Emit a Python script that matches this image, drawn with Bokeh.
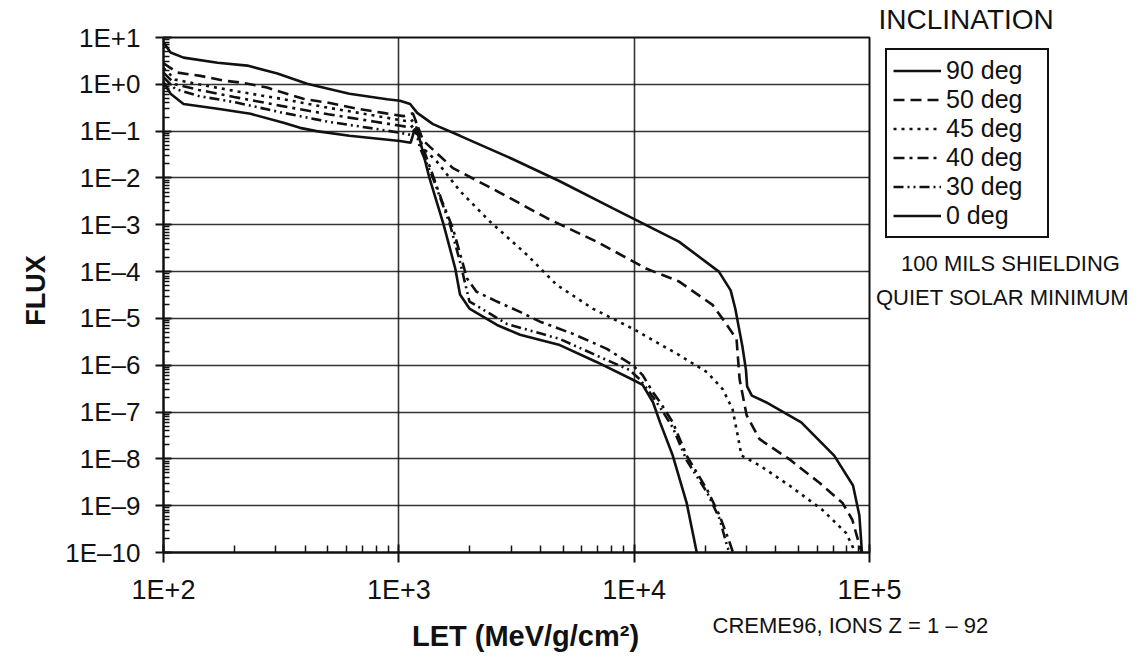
import math
from bokeh.plotting import figure
from bokeh.layouts import column
from bokeh.models import (FixedTicker, CustomJSTickFormatter, Legend, LegendItem, Label)
from bokeh.embed import file_html
from bokeh.resources import INLINE

# ---- data (log10 of LET and log10 of FLUX) ----
let_90 = [2.0, 2.03, 2.085, 2.23, 2.356, 2.484, 2.61, 2.79, 2.95, 3.005, 3.048, 3.078, 3.145, 3.26, 3.485,
          3.684, 3.91, 4.19, 4.36, 4.41, 4.43, 4.445, 4.46, 4.475, 4.48, 4.50, 4.56, 4.71, 4.85, 4.93, 4.957, 4.968]
flux_90 = [0.9, 0.68, 0.57, 0.46, 0.40, 0.23, 0.01, -0.20, -0.32, -0.35, -0.42, -0.61, -0.85, -1.10, -1.60,
           -2.07, -2.65, -3.36, -4.0, -4.4, -4.8, -5.2, -5.6, -6.1, -6.45, -6.65, -6.79, -7.22, -7.93, -8.57, -9.21, -10.0]

let_50 = [2.0, 2.06, 2.157, 2.255, 2.34, 2.44, 2.594, 2.696, 2.82, 2.933, 3.02, 3.06, 3.103, 3.23, 3.417, 3.63,
          3.84, 4.053, 4.19, 4.333, 4.376, 4.435, 4.448, 4.478, 4.533, 4.66, 4.787, 4.885, 4.927, 4.966]
flux_50 = [0.45, 0.25, 0.18, 0.08, 0.03, -0.07, -0.31, -0.39, -0.52, -0.61, -0.68, -0.62, -1.2, -1.79, -2.28, -2.86,
           -3.36, -3.94, -4.21, -4.71, -5.01, -5.44, -6.30, -7.07, -7.58, -8.01, -8.51, -8.94, -9.30, -10.0]

let_45 = [2.0, 2.05, 2.15, 2.3, 2.5, 2.7, 2.9, 3.0, 3.05, 3.07, 3.09, 3.16, 3.26, 3.387, 3.544, 3.67, 3.824,
          3.994, 4.19, 4.31, 4.376, 4.418, 4.44, 4.456, 4.533, 4.66, 4.80, 4.90, 4.927, 4.94]
flux_45 = [0.35, 0.10, 0.0, -0.14, -0.31, -0.50, -0.67, -0.76, -0.80, -0.72, -1.30, -1.64, -2.28, -2.93, -3.64,
           -4.28, -4.79, -5.22, -5.78, -6.15, -6.51, -6.94, -7.50, -7.93, -8.14, -8.57, -9.09, -9.58, -9.86, -10.0]

let_40 = [2.0, 2.05, 2.15, 2.3, 2.5, 2.7, 2.9, 3.0, 3.05, 3.07, 3.103, 3.184, 3.23, 3.29, 3.33, 3.417, 3.515,
          3.6, 3.74, 3.884, 3.994, 4.036, 4.08, 4.11, 4.164, 4.223, 4.31, 4.363, 4.406, 4.42]
flux_40 = [0.25, 0.0, -0.12, -0.27, -0.46, -0.64, -0.80, -0.88, -0.92, -0.85, -1.36, -2.50, -3.08, -4.15, -4.43,
           -4.64, -4.86, -5.07, -5.33, -5.65, -6.0, -6.21, -6.58, -6.79, -7.22, -7.93, -8.66, -9.21, -9.79, -10.0]

let_30 = [2.0, 2.05, 2.15, 2.3, 2.5, 2.7, 2.9, 3.0, 3.05, 3.07, 3.09, 3.145, 3.217, 3.26, 3.30, 3.375, 3.46,
          3.544, 3.684, 3.884, 3.98, 4.024, 4.066, 4.11, 4.164, 4.223, 4.31, 4.363, 4.397, 4.406]
flux_30 = [0.15, -0.10, -0.25, -0.38, -0.60, -0.80, -0.95, -1.03, -1.08, -0.95, -1.36, -2.0, -2.99, -3.79, -4.64,
           -4.86, -5.12, -5.24, -5.44, -5.89, -6.10, -6.30, -6.58, -6.9, -7.33, -8.03, -8.72, -9.28, -9.90, -10.0]

let_0 = [2.0, 2.03, 2.085, 2.23, 2.37, 2.51, 2.58, 2.65, 2.79, 3.005, 3.05, 3.065, 3.085, 3.13, 3.19, 3.24,
         3.26, 3.30, 3.417, 3.515, 3.684, 3.84, 3.99, 4.036, 4.08, 4.11, 4.164, 4.223, 4.266]
flux_0 = [0.05, -0.20, -0.42, -0.52, -0.63, -0.82, -0.93, -1.0, -1.10, -1.21, -1.25, -1.0, -1.1, -2.0, -2.99,
          -3.94, -4.49, -4.79, -5.14, -5.35, -5.57, -5.93, -6.30, -6.42, -6.79, -7.22, -7.93, -8.94, -10.0]

series_names = ["90 deg", "50 deg", "45 deg", "40 deg", "30 deg", "0 deg"]
series_let = [let_90, let_50, let_45, let_40, let_30, let_0]
series_flux = [flux_90, flux_50, flux_45, flux_40, flux_30, flux_0]

x_ticks = [1e2, 1e3, 1e4, 1e5]
x_labels = ["1E+2", "1E+3", "1E+4", "1E+5"]
y_ticks = [1e1, 1e0, 1e-1, 1e-2, 1e-3, 1e-4, 1e-5, 1e-6, 1e-7, 1e-8, 1e-9, 1e-10]
y_labels = ["1E+1", "1E+0", "1E\u20131", "1E\u20132", "1E\u20133", "1E\u20134", "1E\u20135",
            "1E\u20136", "1E\u20137", "1E\u20138", "1E\u20139", "1E\u201310"]

legend_title = "INCLINATION"
x_title = "LET (MeV/g/cm\u00b2)"
y_title = "FLUX"
note_lines = ["100 MILS SHIELDING", "QUIET SOLAR MINIMUM"]
source_note = "CREME96, IONS Z = 1 \u2013 92"

# ---- styles ----
dashes = ["solid", "11 6", "3 5", "11 5 3 5", "10 4 2 4 2 4", "solid"]
FONT = "Liberation Sans"
INK = "#111111"
W, H = 1139, 657

p = figure(width=W, height=H, x_axis_type="log", y_axis_type="log",
           x_range=(1e2, 1e5), y_range=(1e-10, 1e1),
           output_backend="svg", toolbar_location=None,
           min_border_left=163, min_border_right=270, min_border_top=37, min_border_bottom=105)
p.frame_align = False
p.background_fill_color = "white"
p.border_fill_color = "white"
p.outline_line_color = INK
p.outline_line_width = 2

fmt_code = """
let best = 0, bd = 1e9;
for (let i = 0; i < tvals.length; i++) {
  const d = Math.abs(Math.log10(tvals[i]) - Math.log10(tick));
  if (d < bd) { bd = d; best = i; }
}
return tlabels[best];
"""
x_minor = [k * 10 ** n for n in range(2, 5) for k in range(2, 10)]
y_minor = [k * 10.0 ** n for n in range(-10, 1) for k in range(2, 10)]
p.xaxis.ticker = FixedTicker(ticks=x_ticks, minor_ticks=x_minor)
p.yaxis.ticker = FixedTicker(ticks=y_ticks, minor_ticks=y_minor)
p.xaxis.formatter = CustomJSTickFormatter(args=dict(tvals=x_ticks, tlabels=x_labels), code=fmt_code)
p.yaxis.formatter = CustomJSTickFormatter(args=dict(tvals=y_ticks, tlabels=y_labels), code=fmt_code)

for ax in (p.xaxis, p.yaxis):
    ax.axis_line_color = INK
    ax.axis_line_width = 2
    ax.major_tick_line_color = INK
    ax.major_tick_line_width = 2
    ax.minor_tick_line_color = INK
    ax.minor_tick_line_width = 1.5
    ax.major_label_text_font = FONT
    ax.major_label_text_color = INK
p.xaxis.major_tick_in = 8
p.xaxis.major_tick_out = 10
p.xaxis.minor_tick_in = 7
p.xaxis.minor_tick_out = 0
p.xaxis.major_label_text_font_size = "27px"
p.xaxis.major_label_standoff = 12
p.yaxis.major_tick_in = 8
p.yaxis.major_tick_out = 8
p.yaxis.minor_tick_in = 6
p.yaxis.minor_tick_out = 0
p.yaxis.major_label_text_font_size = "26px"
p.yaxis.major_label_standoff = 15

p.xgrid.grid_line_color = INK
p.ygrid.grid_line_color = INK
p.xgrid.grid_line_width = 1.6
p.ygrid.grid_line_width = 1.6
p.xgrid.grid_line_alpha = 0.85
p.ygrid.grid_line_alpha = 0.85

for name, lx, ly, dash in zip(series_names, series_let, series_flux, dashes):
    xs = [10 ** v for v in lx]
    ys = [10 ** v for v in ly]
    p.line(xs, ys, line_color=INK, line_width=2.6, line_dash=dash)

# ---- transparent overlay for legend and free texts (outside the plot frame) ----
ov = figure(width=W, height=H, x_range=(0, W), y_range=(0, H),
            output_backend="svg", toolbar_location=None,
            x_axis_location=None, y_axis_location=None,
            min_border=0, min_border_left=0, min_border_right=0,
            min_border_top=0, min_border_bottom=0,
            margin=(-H, 0, 0, 0))
ov.frame_align = False
ov.grid.visible = False
ov.background_fill_alpha = 0
ov.border_fill_alpha = 0
ov.outline_line_color = None

nan = float("nan")
items = []
for name, dash in zip(series_names, dashes):
    # legend-only stand-ins (no visible data), styled like the curves above
    r = ov.line(x=[nan, nan], y=[nan, nan], line_color=INK, line_width=2.6, line_dash=dash)
    items.append(LegendItem(label=name, renderers=[r]))

legend = Legend(items=items, location=(885, H - 238))
legend.border_line_color = INK
legend.border_line_width = 2.5
legend.border_line_alpha = 1.0
legend.background_fill_alpha = 0
legend.label_text_font = FONT
legend.label_text_font_size = "25px"
legend.label_text_color = INK
legend.glyph_width = 48
legend.glyph_height = 27
legend.label_height = 27
legend.label_width = 95
legend.label_standoff = 5
legend.spacing = 0
legend.padding = 6
legend.margin = 0
ov.add_layout(legend, "center")

def add_label(text, px, py, size, bold=False, align="left", angle=0.0):
    ov.add_layout(Label(x=px, y=H - py, x_units="screen", y_units="screen", text=text,
                        text_font=FONT, text_font_size=size, text_color=INK,
                        text_font_style="bold" if bold else "normal",
                        text_align=align, text_baseline="middle", angle=angle))

add_label(y_title, 35, 290, "27px", bold=True, align="center", angle=math.pi / 2)
add_label(x_title, 525, 635, "29px", bold=True, align="center")
add_label(source_note, 712, 625, "22px")
add_label(legend_title, 878, 19, "28px")
add_label(note_lines[0], 1010, 263, "22px", align="center")
add_label(note_lines[1], 1002, 297, "22px", align="center")

open("out.html", "w").write(file_html(column(p, ov, spacing=0), INLINE))
